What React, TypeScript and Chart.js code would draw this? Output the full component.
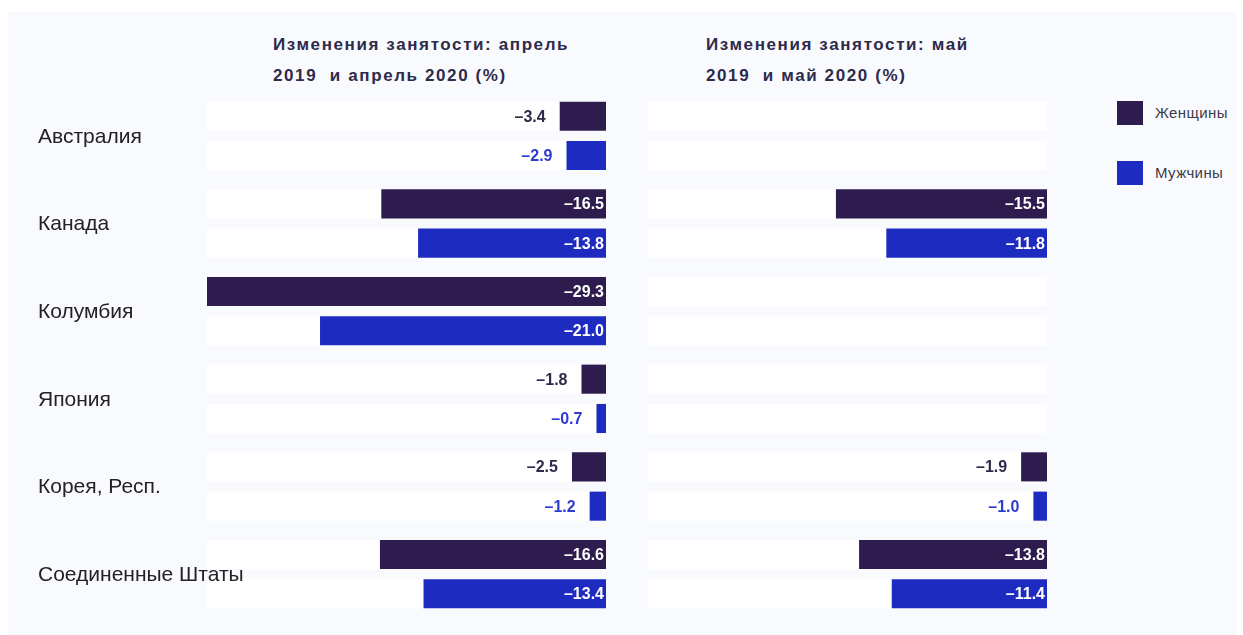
import React, { useEffect, useRef } from "react";
import { Chart, registerables } from "chart.js";

Chart.register(...registerables);

// ---- data ----
const countries = ["Австралия", "Канада", "Колумбия", "Япония", "Корея, Респ.", "Соединенные Штаты"];
const seriesNames = ["Женщины", "Мужчины"];
const aprilWomen = [-3.4, -16.5, -29.3, -1.8, -2.5, -16.6];
const aprilMen = [-2.9, -13.8, -21.0, -0.7, -1.2, -13.4];
const mayWomen = [null, -15.5, null, null, -1.9, -13.8];
const mayMen = [null, -11.8, null, null, -1.0, -11.4];
const titleApril = ["Изменения занятости: апрель", "2019  и апрель 2020 (%)"];
const titleMay = ["Изменения занятости: май", "2019  и май 2020 (%)"];

// ---- styles ----
const WOMEN = "#2e1c4f";
const MEN = "#1d2bc0";
const LABEL_COLORS = ["#2d2a4a", "#2e3bd0"];
const FONT = "'Liberation Sans', Arial, sans-serif";
const CAT_PCT = 0.897;
const BAR_PCT = 0.74;
const X_MIN = -29.3;

const fmt = (v: number) => "\u2013" + Math.abs(v).toFixed(1);

const bandsPlugin = {
  id: "bands",
  beforeDatasetsDraw(chart: any) {
    const { ctx, chartArea, scales } = chart;
    const y = scales.y;
    const n = chart.data.labels.length;
    const catW = (chartArea.bottom - chartArea.top) / n;
    const slot = (catW * CAT_PCT) / 2;
    const h = slot * BAR_PCT;
    ctx.save();
    ctx.fillStyle = "#ffffff";
    for (let i = 0; i < n; i++) {
      const c = y.getPixelForValue(i);
      for (const off of [-slot / 2, slot / 2]) {
        ctx.fillRect(chartArea.left, c + off - h / 2, chartArea.right - chartArea.left, h);
      }
    }
    ctx.restore();
  },
};

const valueLabelsPlugin = {
  id: "valueLabels",
  afterDatasetsDraw(chart: any, _args: any, opts: any) {
    const { ctx } = chart;
    ctx.save();
    ctx.font = `bold 16px ${FONT}`;
    ctx.textBaseline = "middle";
    ctx.textAlign = "right";
    chart.data.datasets.forEach((ds: any, di: number) => {
      const meta = chart.getDatasetMeta(di);
      meta.data.forEach((el: any, i: number) => {
        const v = ds.data[i];
        if (v == null) return;
        const { x, y, base } = el.getProps(["x", "y", "base"], true);
        if (Math.abs(v) >= 5) {
          ctx.fillStyle = "#ffffff";
          ctx.fillText(fmt(v), base - 2, y + 1);
        } else {
          ctx.fillStyle = LABEL_COLORS[di];
          ctx.fillText(fmt(v), x - 14, y + 1);
        }
      });
    });
    // category labels (left panel only)
    if (opts && opts.showCategories) {
      ctx.font = `21px ${FONT}`;
      ctx.fillStyle = "#222222";
      ctx.textAlign = "left";
      const y = chart.scales.y;
      chart.data.labels.forEach((lab: string, i: number) => {
        ctx.fillText(lab, 30, y.getPixelForValue(i) + 1);
      });
    }
    ctx.restore();
  },
};

function makeConfig(women: (number | null)[], men: (number | null)[], showLabels: boolean): any {
  return {
    type: "bar",
    data: {
      labels: countries,
      datasets: [
        { label: seriesNames[0], data: women, backgroundColor: WOMEN, borderWidth: 0, categoryPercentage: CAT_PCT, barPercentage: BAR_PCT },
        { label: seriesNames[1], data: men, backgroundColor: MEN, borderWidth: 0, categoryPercentage: CAT_PCT, barPercentage: BAR_PCT },
      ],
    },
    options: {
      indexAxis: "y",
      animation: false,
      responsive: false,
      events: [],
      layout: { padding: { left: showLabels ? 199 : 0, top: 0, right: 0, bottom: 0 } },
      plugins: {
        legend: { display: false },
        tooltip: { enabled: false },
        title: { display: false },
        valueLabels: { showCategories: showLabels },
      },
      scales: {
        x: { display: false, min: X_MIN, max: 0 },
        y: { display: false },
      },
    },
    plugins: [bandsPlugin, valueLabelsPlugin],
  };
}

function BarPanel(props: { women: (number | null)[]; men: (number | null)[]; showLabels: boolean; left: number; width: number }) {
  const ref = useRef<HTMLCanvasElement | null>(null);
  useEffect(() => {
    if (!ref.current) return;
    const chart = new Chart(ref.current, makeConfig(props.women, props.men, props.showLabels));
    return () => chart.destroy();
  }, []);
  return (
    <canvas
      ref={ref}
      width={props.width}
      height={526}
      style={{ position: "absolute", left: props.left, top: 92, width: props.width, height: 526 }}
    />
  );
}

const titleStyle = (left: number, top: number): React.CSSProperties => ({
  position: "absolute",
  left,
  top,
  fontFamily: FONT,
  fontWeight: "bold",
  fontSize: 17,
  letterSpacing: "1.6px",
  lineHeight: "20px",
  color: "#2d2a4a",
  whiteSpace: "pre",
});

export default function App() {
  return (
    <div style={{ position: "fixed", left: 0, top: 0, width: 1243, height: 635, background: "#ffffff", overflow: "hidden" }}>
      <div style={{ position: "absolute", left: 8, top: 12, width: 1229, height: 623, background: "#f9fafd" }} />
      <div style={titleStyle(273, 35)}>{titleApril[0]}</div>
      <div style={titleStyle(273, 66)}>{titleApril[1]}</div>
      <div style={titleStyle(706, 35)}>{titleMay[0]}</div>
      <div style={titleStyle(706, 66)}>{titleMay[1]}</div>
      <BarPanel women={aprilWomen} men={aprilMen} showLabels={true} left={8} width={598} />
      <BarPanel women={mayWomen} men={mayMen} showLabels={false} left={648} width={399} />
      {seriesNames.map((name, i) => (
        <React.Fragment key={name}>
          <div
            style={{
              position: "absolute",
              left: 1117,
              top: i === 0 ? 101 : 161,
              width: 26,
              height: 24,
              background: i === 0 ? WOMEN : MEN,
            }}
          />
          <div
            style={{
              position: "absolute",
              left: 1155,
              top: i === 0 ? 103 : 163,
              fontFamily: FONT,
              fontSize: 15,
              lineHeight: "20px",
              color: "#3a3a48",
              letterSpacing: "0.4px",
            }}
          >
            {name}
          </div>
        </React.Fragment>
      ))}
    </div>
  );
}
